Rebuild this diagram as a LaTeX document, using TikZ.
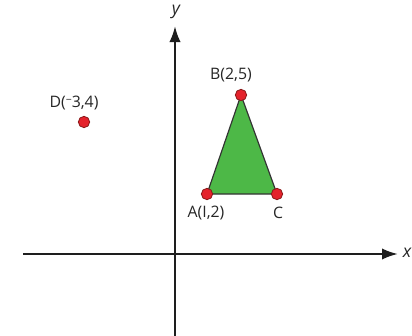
\documentclass[tikz,border=0pt]{standalone}
\usepackage{fontspec}
\setmainfont{Open Sans}
\usetikzlibrary{arrows.meta}
\definecolor{dotred}{HTML}{E4222B}
\definecolor{dotrim}{HTML}{8A1A1A}
\definecolor{trigreen}{HTML}{4DB847}
\definecolor{axisgray}{HTML}{1E1E1E}
\tikzset{
  pt/.style={circle,fill=dotred,draw=dotrim,line width=0.7pt,inner sep=0pt,minimum size=0.34cm},
  lbl/.style={font=\fontsize{13.5}{15}\selectfont,text=black!85,inner sep=0pt},
  axis/.style={axisgray,line width=2pt,-{Latex[length=0.48cm,width=0.34cm]}}
}
\begin{document}
\begin{tikzpicture}[x=0.03cm,y=-0.03cm]
          \useasboundingbox (0,0) rectangle (412,336);
          \coordinate (xl) at (23,254);
          \coordinate (xr) at (398,254);
          \coordinate (yb) at (175,336);
          \coordinate (yt) at (175,26);
          \draw[axis] (xl) -- (xr);
          \draw[axis] (yb) -- (yt);
          \node[lbl,font=\fontsize{15}{17}\selectfont\itshape] (xlab) at (407,253) {x};
          \node[lbl,font=\fontsize{15}{17}\selectfont\itshape] (ylab) at (176,12) {y};
          \coordinate (a) at (207,194);
          \coordinate (b) at (241,95);
          \coordinate (c) at (277,194);
          \filldraw[fill=trigreen,draw=black!80,line width=1pt,line join=round] (a) -- (b) -- (c) -- cycle;
          \node[pt] (ptA) at (a) {};
          \node[pt] (ptB) at (b) {};
          \node[pt] (ptC) at (c) {};
          \node[pt] (ptD) at (84,122) {};
          \node[lbl] (labA) at (206,213) {A(I,2)};
          \node[lbl] (labB) at (231,75) {B(2,5)};
          \node[lbl] (labC) at (278,213) {C};
          \node[lbl] (labD) at (74,103) {D(\raisebox{0.45ex}{\fontsize{9}{9}\selectfont −}3,4)};
        \end{tikzpicture}
\end{document}
